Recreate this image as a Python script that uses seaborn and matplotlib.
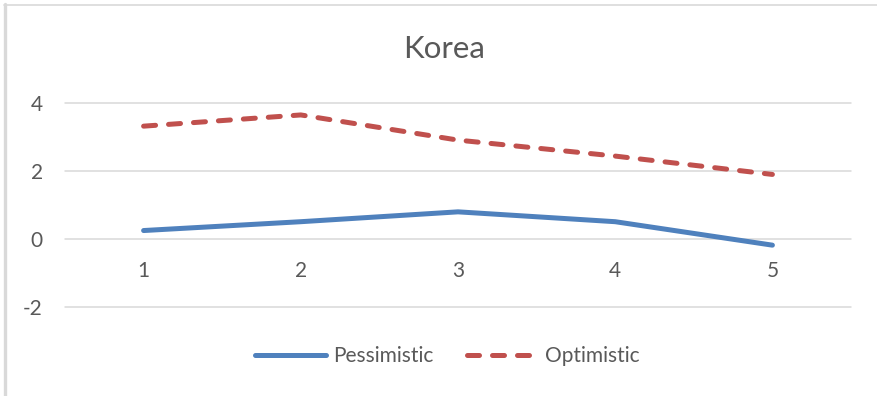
import matplotlib
matplotlib.use("Agg")
import matplotlib.pyplot as plt
from matplotlib.lines import Line2D
import seaborn as sns
import pandas as pd

# Korea scenario paths over five periods
periods = [1, 2, 3, 4, 5]
pessimistic = [0.24, 0.50, 0.79, 0.50, -0.19]
optimistic = [3.31, 3.64, 2.90, 2.43, 1.89]
scenario_names = ["Pessimistic", "Optimistic"]
y_ticks = [-2, 0, 2, 4]

BLUE = "#4F81BD"
RED = "#C0504D"
TEXT = "#595959"
GRID = "#D9D9D9"

df = pd.DataFrame({
    "period": periods * 2,
    "value": pessimistic + optimistic,
    "scenario": [scenario_names[0]] * len(periods) + [scenario_names[1]] * len(periods),
})

sns.set_theme(style="white")
plt.rcParams["font.family"] = ["Lato", "DejaVu Sans"]
plt.rcParams["axes.unicode_minus"] = False

W, H = 877, 396
fig = plt.figure(figsize=(W / 100, H / 100), dpi=100)
left, right, top, bottom = 65, 851, 102.7, 306.7
ax = fig.add_axes([left / W, 1 - bottom / H, (right - left) / W, (bottom - top) / H])

lw = 3.6
sns.lineplot(
    data=df, x="period", y="value", hue="scenario", style="scenario",
    palette={"Pessimistic": BLUE, "Optimistic": RED},
    dashes={"Pessimistic": "", "Optimistic": (2.4, 2.6)},
    linewidth=lw, legend=False, ax=ax,
)
for ln in ax.lines:
    ln.set_solid_capstyle("round")
    ln.set_dash_capstyle("round")
    ln.set_solid_joinstyle("round")
    ln.set_dash_joinstyle("round")

ax.set_xlim(0.5, 5.5)
ax.set_ylim(-2, 4)
ax.set_yticks(y_ticks)
ax.set_xticks(periods)
ax.set_xticklabels([str(p) for p in periods])
ax.set_xlabel("")
ax.set_ylabel("")

for y in y_ticks:
    ax.axhline(y, color=GRID, linewidth=1.1, zorder=0, clip_on=False)
ax.grid(False)

for side in ["top", "right", "left"]:
    ax.spines[side].set_visible(False)
ax.spines["bottom"].set_position(("data", 0))
ax.spines["bottom"].set_visible(False)

ax.tick_params(axis="x", length=0, pad=16, labelsize=15, labelcolor=TEXT)
ax.tick_params(axis="y", length=0, pad=16, labelsize=15, labelcolor=TEXT)

fig.text(444 / W, 1 - 58 / H, "Korea", ha="center", va="baseline",
         fontsize=22.5, color=TEXT)

handles = [
    Line2D([], [], color=BLUE, linewidth=lw, solid_capstyle="round"),
    Line2D([], [], color=RED, linewidth=lw, linestyle=(0, (2.4, 2.6)),
           dash_capstyle="round"),
]
leg = fig.legend(handles, scenario_names, loc="center",
                 bbox_to_anchor=(447 / W, 1 - 356 / H), ncol=2, frameon=False,
                 fontsize=15, handlelength=3.4, handletextpad=0.35,
                 columnspacing=1.6)
for t in leg.get_texts():
    t.set_color(TEXT)

# chart frame
fig.add_artist(Line2D([5 / W, 5 / W], [0, 1 - 4 / H], transform=fig.transFigure,
                      color=GRID, linewidth=2.4))
fig.add_artist(Line2D([4 / W, 1], [1 - 4.5 / H, 1 - 4.5 / H], transform=fig.transFigure,
                      color=GRID, linewidth=1.2))

fig.savefig("out.png", dpi=100)
